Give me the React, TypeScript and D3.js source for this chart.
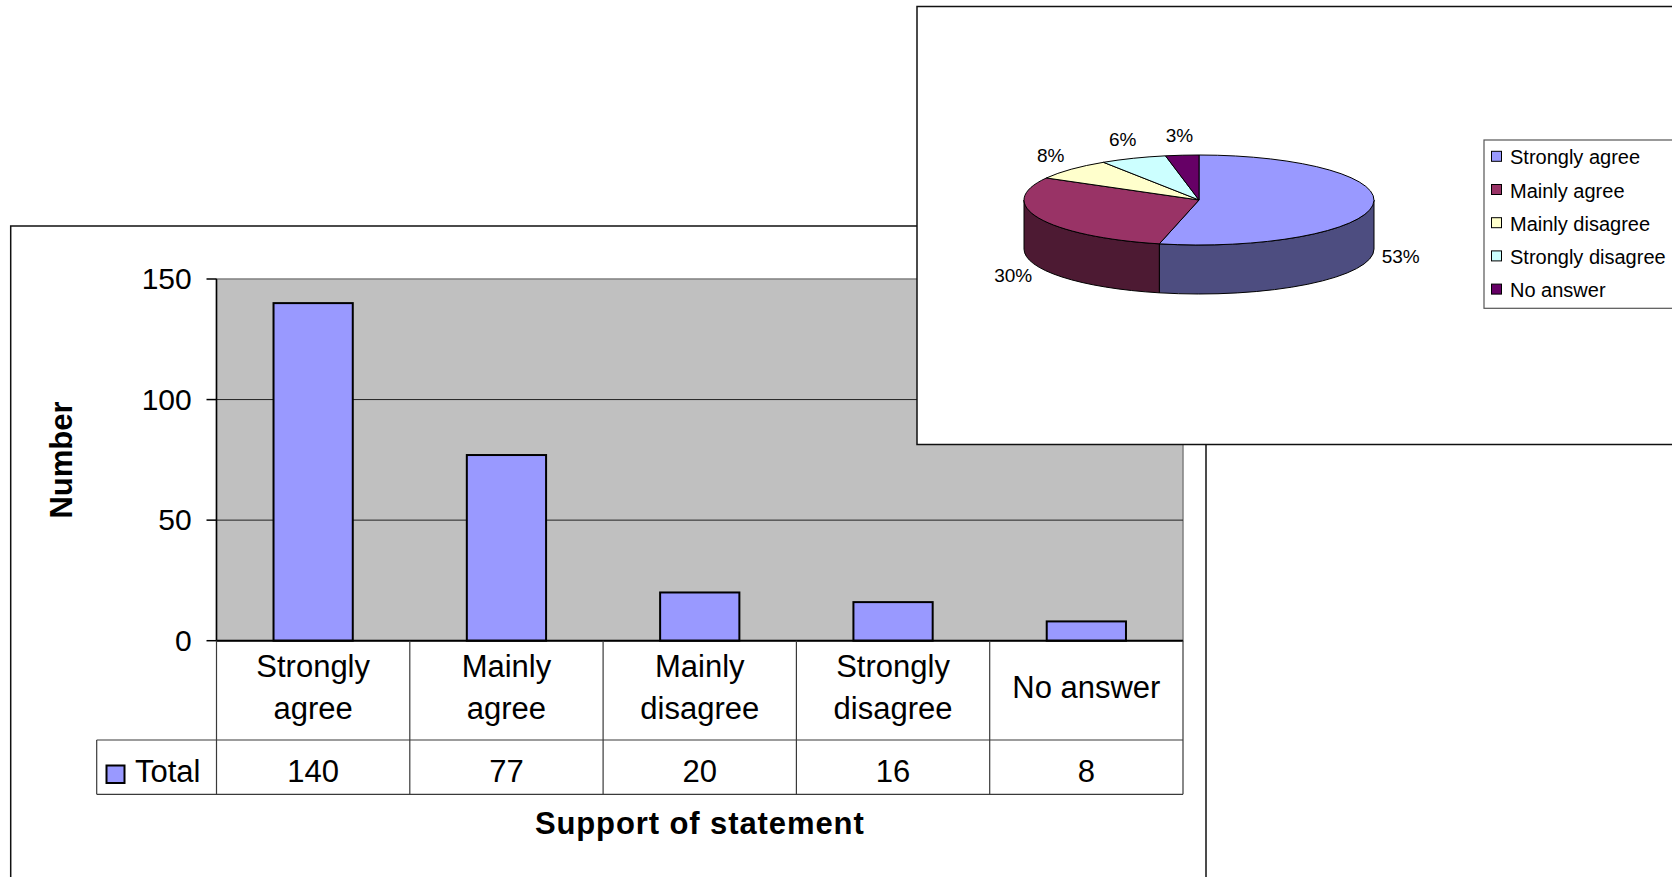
import React from "react";
import * as d3 from "d3";

const categories = ["Strongly agree", "Mainly agree", "Mainly disagree", "Strongly disagree", "No answer"];
const categoryLines = [["Strongly", "agree"], ["Mainly", "agree"], ["Mainly", "disagree"], ["Strongly", "disagree"], ["No answer"]];
const totals = [140, 77, 20, 16, 8];
const yTicks = [0, 50, 100, 150];
const seriesName = "Total";
const pieLabels = ["53%", "30%", "8%", "6%", "3%"];
const pieTopColors = ["#9999FF", "#993366", "#FFFFCC", "#CCFFFF", "#660066"];
const pieSideColors = ["#4D4D80", "#4D1A33", "#80806A", "#668080", "#330033"];
const xTitle = "Support of statement";
const yTitle = "Number";

const W = 1672;
const H = 877;
const FONT = "'Liberation Sans', Arial, Helvetica, sans-serif";

export default function App() {
  // ---------- bar chart ----------
  const plot = { left: 216.5, right: 1183, top: 279, bottom: 640.7 };
  const x = d3.scaleBand<string>().domain(categories).range([plot.left, plot.right]);
  const xBar = d3
    .scaleBand<string>()
    .domain(categories)
    .range([plot.left, plot.right])
    .paddingInner(0.59)
    .paddingOuter(0.295);
  const y = d3.scaleLinear().domain([0, 150]).range([plot.bottom, plot.top]);
  const row1Bottom = 740;
  const row2Bottom = 794.3;
  const legendCellLeft = 96.7;
  const row1Mid = 687;
  const lineH = 42.3;
  const capH = 21.5;
  const tableStroke = "#3a3a3a";

  // ---------- pie chart ----------
  const cx = 1199;
  const cy = 200;
  const rx = 175;
  const ry = 45;
  const depth = 49;
  const arcs = d3.pie<number>().sort(null).value((d) => d)(totals);
  const pt = (a: number, dy = 0) => [cx + rx * Math.sin(a), cy - ry * Math.cos(a) + dy];
  const topPath = (a0: number, a1: number) => {
    const p0 = pt(a0);
    const p1 = pt(a1);
    const large = a1 - a0 > Math.PI ? 1 : 0;
    return `M${cx},${cy}L${p0[0]},${p0[1]}A${rx},${ry} 0 ${large} 1 ${p1[0]},${p1[1]}Z`;
  };
  const sidePath = (a0: number, a1: number) => {
    const s = Math.max(a0, Math.PI / 2);
    const e = Math.min(a1, (3 * Math.PI) / 2);
    if (s >= e) return null;
    const p0 = pt(s);
    const p1 = pt(e);
    const q1 = pt(e, depth);
    const q0 = pt(s, depth);
    return `M${p0[0]},${p0[1]}A${rx},${ry} 0 0 1 ${p1[0]},${p1[1]}L${q1[0]},${q1[1]}A${rx},${ry} 0 0 0 ${q0[0]},${q0[1]}Z`;
  };

  return (
    <svg
      width={W}
      height={H}
      viewBox={`0 0 ${W} ${H}`}
      style={{ position: "absolute", left: 0, top: 0, background: "#fff" }}
      fontFamily={FONT}
    >
      <rect x={0} y={0} width={W} height={H} fill="#fff" />
      {/* bar chart frame */}
      <rect x={10.7} y={226} width={1206 - 10.7} height={700} fill="#fff" stroke="#111" strokeWidth={1.5} />

      {/* plot area */}
      <rect
        x={plot.left}
        y={plot.top}
        width={plot.right - plot.left}
        height={plot.bottom - plot.top}
        fill="#C0C0C0"
        stroke="#808080"
        strokeWidth={1.5}
      />
      {yTicks
        .filter((t) => t !== 0 && t !== 150)
        .map((t) => (
          <line key={"g" + t} x1={plot.left} x2={plot.right} y1={y(t)} y2={y(t)} stroke="#222" strokeWidth={1} />
        ))}

      {/* bars */}
      {categories.map((c, i) => (
        <rect
          key={"b" + c}
          x={xBar(c)}
          y={y(totals[i])}
          width={xBar.bandwidth()}
          height={y(0) - y(totals[i])}
          fill="#9999FF"
          stroke="#000"
          strokeWidth={2}
        />
      ))}

      {/* y axis */}
      <line x1={plot.left} x2={plot.left} y1={plot.top} y2={plot.bottom} stroke="#000" strokeWidth={1.5} />
      {yTicks.map((t) => (
        <g key={"t" + t}>
          <line x1={plot.left - 10} x2={plot.left} y1={y(t)} y2={y(t)} stroke="#000" strokeWidth={1.5} />
          <text x={191.7} y={y(t) + 10} textAnchor="end" fontSize={30} fill="#000">
            {t}
          </text>
        </g>
      ))}

      {/* data table */}
      <line x1={plot.left} x2={plot.right} y1={plot.bottom} y2={plot.bottom} stroke="#000" strokeWidth={2} />
      {categories.map((c) => (
        <line key={"v" + c} x1={x(c)} x2={x(c)} y1={plot.bottom} y2={row2Bottom} stroke={tableStroke} strokeWidth={1.2} />
      ))}
      <line x1={plot.right} x2={plot.right} y1={plot.bottom} y2={row2Bottom} stroke={tableStroke} strokeWidth={1.2} />
      <line x1={legendCellLeft} x2={plot.right} y1={row1Bottom} y2={row1Bottom} stroke={tableStroke} strokeWidth={1.2} />
      <line x1={legendCellLeft} x2={plot.right} y1={row2Bottom} y2={row2Bottom} stroke={tableStroke} strokeWidth={1.2} />
      <line x1={legendCellLeft} x2={legendCellLeft} y1={row1Bottom} y2={row2Bottom} stroke={tableStroke} strokeWidth={1.2} />

      {categories.map((c, i) => {
        const lines = categoryLines[i];
        const cxC = (x(c) as number) + x.bandwidth() / 2;
        return (
          <text key={"c" + c} textAnchor="middle" fontSize={31} fill="#000">
            {lines.map((ln, j) => (
              <tspan key={j} x={cxC} y={row1Mid + (j - (lines.length - 1) / 2) * lineH + capH / 2}>
                {ln}
              </tspan>
            ))}
          </text>
        );
      })}
      {categories.map((c, i) => (
        <text
          key={"val" + c}
          x={(x(c) as number) + x.bandwidth() / 2}
          y={781.7}
          textAnchor="middle"
          fontSize={31}
          fill="#000"
        >
          {totals[i]}
        </text>
      ))}
      <rect x={106.5} y={765.5} width={18} height={17.5} fill="#9999FF" stroke="#000" strokeWidth={2} />
      <text x={135} y={781.7} fontSize={31} fill="#000">
        {seriesName}
      </text>

      {/* axis titles */}
      <text
        transform={`translate(${72},${460}) rotate(-90)`}
        textAnchor="middle"
        fontSize={31}
        fontWeight="bold"
        fill="#000"
      >
        {yTitle}
      </text>
      <text
        x={(plot.left + plot.right) / 2}
        y={834}
        textAnchor="middle"
        fontSize={31}
        fontWeight="bold"
        letterSpacing={0.9}
        fill="#000"
      >
        {xTitle}
      </text>

      {/* pie chart frame */}
      <rect x={917} y={6.5} width={800} height={444.5 - 6.5} fill="#fff" stroke="#111" strokeWidth={1.5} />

      {/* pie sides */}
      {arcs.map((a, i) => {
        const d = sidePath(a.startAngle, a.endAngle);
        return d ? <path key={"s" + i} d={d} fill={pieSideColors[i]} stroke="#000" strokeWidth={1} /> : null;
      })}
      {/* pie tops */}
      {arcs.map((a, i) => (
        <path key={"p" + i} d={topPath(a.startAngle, a.endAngle)} fill={pieTopColors[i]} stroke="#000" strokeWidth={1} />
      ))}
      {/* pie labels */}
      {arcs.map((a, i) => {
        const m = (a.startAngle + a.endAngle) / 2;
        const lx = cx + (rx + 28) * Math.sin(m);
        const ly = cy - (ry + 20) * Math.cos(m) + (Math.cos(m) < 0 ? depth : 0);
        return (
          <text key={"l" + i} x={lx} y={ly + 6.7} textAnchor="middle" fontSize={19} fill="#000">
            {pieLabels[i]}
          </text>
        );
      })}

      {/* pie legend */}
      <rect x={1484} y={140} width={300} height={168.3} fill="#fff" stroke="#555" strokeWidth={1.2} />
      {categories.map((c, i) => {
        const by = 164.3 + i * 33.2;
        return (
          <g key={"lg" + c}>
            <rect x={1491.5} y={by - 13} width={10} height={10} fill={pieTopColors[i]} stroke="#000" strokeWidth={1} />
            <text x={1510} y={by} fontSize={20} fill="#000">
              {c}
            </text>
          </g>
        );
      })}
    </svg>
  );
}
